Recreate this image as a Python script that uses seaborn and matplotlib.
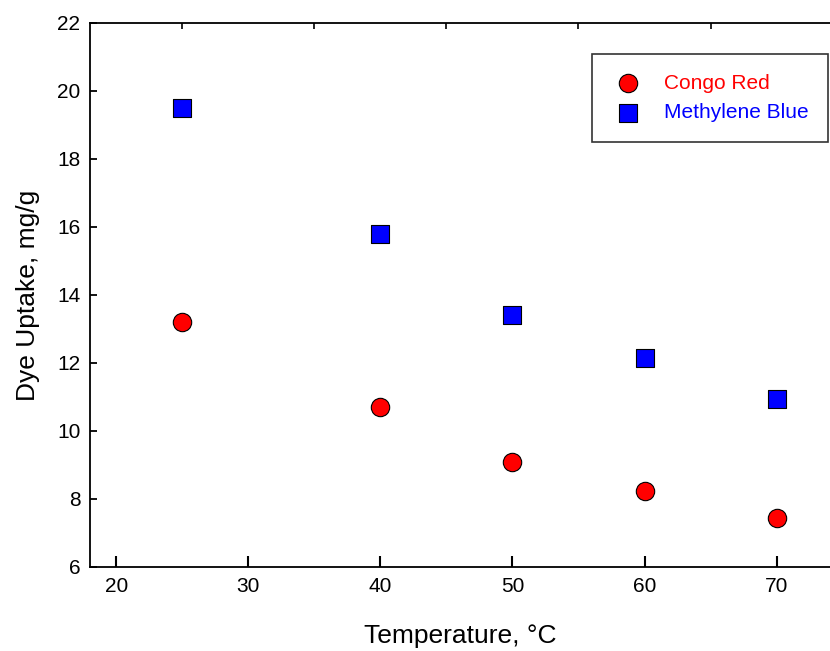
import matplotlib
matplotlib.use("Agg")
import matplotlib.pyplot as plt
import seaborn as sns
import pandas as pd

temperature = [25, 40, 50, 60, 70]
congo_red = [13.2, 10.72, 9.08, 8.25, 7.45]
methylene_blue = [19.5, 15.8, 13.4, 12.15, 10.95]
series_names = ["Congo Red", "Methylene Blue"]
x_ticks = [20, 30, 40, 50, 60, 70]
y_ticks = [6, 8, 10, 12, 14, 16, 18, 20, 22]

df = pd.DataFrame({
    "Temperature": temperature * 2,
    "Uptake": congo_red + methylene_blue,
    "Dye": [series_names[0]] * len(temperature) + [series_names[1]] * len(temperature),
})

sns.set_style("white")
plt.rcParams["font.family"] = ["Liberation Sans", "DejaVu Sans"]
plt.rcParams["text.color"] = "black"
plt.rcParams["axes.labelcolor"] = "black"
plt.rcParams["xtick.color"] = "black"
plt.rcParams["ytick.color"] = "black"

fig = plt.figure(figsize=(8.3, 6.51), dpi=100)
ax = fig.add_axes([90 / 830, 1 - 567 / 651, 1 - 90 / 830, (567 - 23) / 651])

colors = {"Congo Red": "#ff0000", "Methylene Blue": "#0000ff"}
markers = {"Congo Red": "o", "Methylene Blue": "s"}
for name in series_names:
    sub = df[df["Dye"] == name]
    sns.scatterplot(data=sub, x="Temperature", y="Uptake", color=colors[name],
                    marker=markers[name], s=175,
                    edgecolor="black", linewidth=0.8, ax=ax, label=name, zorder=3)

ax.set_xlim(18, 74.05)
ax.set_ylim(6, 22)
ax.set_xticks(x_ticks)
ax.set_yticks(y_ticks)
ax.set_xticks([25, 35, 45, 55, 65], minor=True)
ax.tick_params(axis="x", which="major", direction="in", length=8, width=1.5,
               labelsize=15, pad=7, bottom=True, top=False)
ax.tick_params(axis="y", which="major", direction="in", length=5, width=1.3,
               labelsize=15, pad=7, left=True)
ax.tick_params(axis="x", which="minor", direction="in", top=True, bottom=False,
               length=4, width=1.2)
for side in ["left", "bottom", "top"]:
    ax.spines[side].set_color("black")
    ax.spines[side].set_linewidth(1.3)
ax.spines["right"].set_visible(False)

ax.set_xlabel("Temperature, °C", fontsize=19, labelpad=20)
ax.set_ylabel("Dye Uptake, mg/g", fontsize=19, labelpad=12)

leg = ax.legend(loc="upper right",
                bbox_to_anchor=(828 / 830, 1 - 54 / 651), bbox_transform=fig.transFigure,
                frameon=True, fancybox=False, edgecolor="black", fontsize=15,
                borderpad=0.95, handlelength=1.6, handletextpad=0.9,
                labelspacing=0.5, borderaxespad=0)
leg.get_frame().set_linewidth(1.2)
for txt, name in zip(leg.get_texts(), series_names):
    txt.set_color(colors[name])

fig.savefig("out.png", dpi=100)
